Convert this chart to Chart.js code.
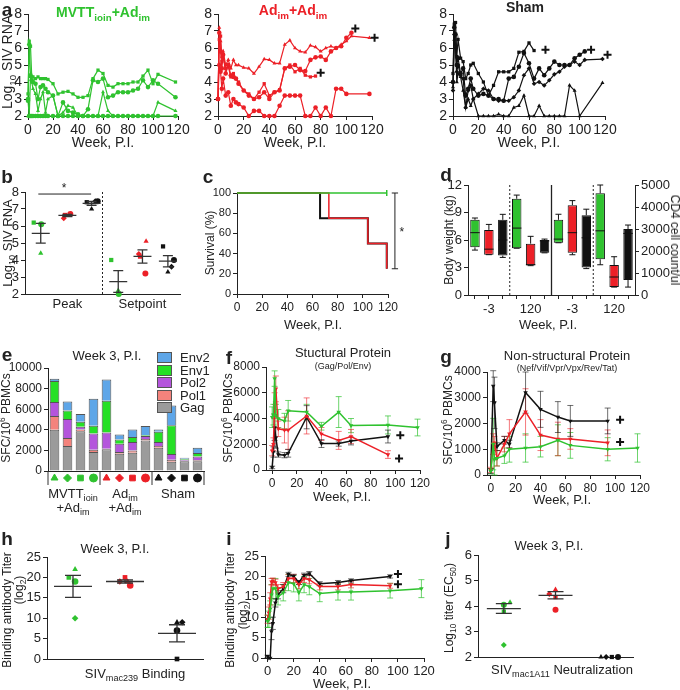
<!DOCTYPE html>
<html lang="en">
<head>
<meta charset="UTF-8">
<title>SIV challenge outcome figure</title>
<script src="https://cdn.jsdelivr.net/npm/chart.js"></script>
<style>
  html, body { margin: 0; padding: 0; background: #fff; }
  body { position: relative; width: 680px; height: 690px; overflow: hidden;
         font-family: "Liberation Sans", Arial, sans-serif; color: #222; }
  canvas { position: absolute; }
  .lab { position: absolute; white-space: nowrap; font-size: 13px; line-height: 1; }
  .lab sub, .lab sup { font-size: 70%; line-height: 0; }
  .key { position: absolute; width: 13px; height: 9px; border: 1px solid #555; }
</style>
</head>
<body>
<script>
// ---------- data ----------

// a: log10 SIV RNA per animal
const aWeeks = [0,1,2,3,4,6,8,10,12,14,16,20,24,28,32,36,40,44,48,52,56,60,64,68,72,76,80,84,88,92,96,100,104,118];
const aMvtt1 = [3.3,6.4,6.1,4.3,4.3,4.2,4.3,4.2,4.2,4.2,4.15,3.9,3.3,3.4,3.45,3.3,3.1,3.1,3.2,4.2,4.7,4.5,3.8,3.7,3.9,3.9,3.9,4.0,4.0,4.35,4.7,3.9,4.45,4.0];
const aMvtt2 = [3.0,6.2,4.4,4.1,4.0,3.9,3.0,3.7,3.8,3.6,3.4,3.2,2.0,2.8,2.3,2.2,2.1,2.0,2.4,4.1,4.0,4.2,3.1,3.2,3.4,3.4,3.4,3.5,3.6,4.1,3.7,4.1,3.9,3.1];
const aMvtt3 = [2.0,2.0,4.3,4.0,3.6,3.3,2.3,3.0,3.4,2.2,3.0,3.2,2.0,2.2,2.6,2.5,2.0,2.0,2.0,2.0,2.0,3.4,2.3,2.0,2.0,2.0,2.0,2.0,2.0,2.0,2.0,2.0,2.8,2.3];
const aMvtt4 = [2.9,2.0,2.0,2.0,2.0,2.0,2.0,2.0,2.0,2.0,2.0,2.0,2.0,2.0,2.0,2.0,2.0,2.0,2.0,2.0,2.0,2.0,2.0,2.0,2.0,2.0,2.0,2.0,2.0,2.0,2.0,2.0,2.0,2.0];
const aAd1 = [3.0,7.2,6.4,5.5,5.8,5.0,5.3,4.8,5.3,5.0,5.0,4.85,4.8,4.5,4.9,5.35,5.3,5.1,5.1,6.2,6.45,6.0,5.8,5.75,6.15,6.05,5.8,6.0,6.1,6.0,6.2,6.4,6.7,6.6];
const aAd2 = [3.0,6.9,5.8,4.8,5.6,4.5,5.0,4.4,4.3,4.2,3.9,3.5,3.2,3.0,3.1,3.4,3.0,3.4,3.5,4.8,4.9,5.0,4.7,4.65,5.3,5.45,5.5,5.3,5.8,6.0,6.1,6.6,6.9,null];
const aAd3 = [3.0,6.5,6.7,5.2,5.6,4.8,4.9,4.3,4.5,4.2,4.0,3.5,3.3,3.0,3.4,3.9,3.2,3.4,3.55,4.8,5.0,4.6,4.8,4.4,4.3,4.35,null,null,null,null,null,null,null,null];
const aAd4 = [3.0,5.0,4.6,3.6,4.2,3.2,3.4,2.6,3.0,2.8,2.7,2.5,2.0,2.3,2.3,2.0,2.0,2.0,2.6,3.2,3.2,3.2,3.2,2.0,2.0,2.5,2.0,2.5,2.0,3.6,3.6,3.3,null,3.3];
const aSham1 = [4.5,7.4,7.5,5.5,6.5,5.4,5.2,4.2,4.5,5.0,5.1,4.5,4.0,3.2,3.8,4.6,4.6,4.6,4.8,5.75,5.8,6.3,5.85,null,null,null,null,null,null,null,null,null,null,null];
const aSham2 = [4.0,7.2,6.8,5.0,5.4,4.5,4.8,3.2,3.6,4.2,3.6,3.2,3.3,3.2,3.0,3.0,2.9,4.2,4.3,4.9,5.7,5.1,4.2,4.8,4.4,4.8,5.2,5.0,5.0,5.0,5.4,5.6,5.8,null];
const aSham3 = [3.5,6.8,6.0,4.6,5.0,4.4,4.2,2.5,3.5,3.8,3.0,3.3,3.6,3.5,3.0,2.9,2.9,2.9,3.1,3.5,4.4,4.8,3.9,4.0,3.8,4.1,4.45,4.6,4.9,5.0,5.2,5.0,5.3,5.35];
const aSham4 = [3.7,6.5,6.2,4.0,4.5,4.3,3.5,2.5,3.0,2.6,3.0,2.0,2.0,2.0,2.0,2.1,2.0,2.0,2.5,2.6,3.2,2.0,2.0,2.6,2.0,2.0,2.0,2.0,2.0,3.8,3.5,2.0,null,3.95];
const aAdCrossWeeks = [107, 122, 80];
const aAdCrossVals = [7.15, 6.6, 4.55];
const aShamCrossWeeks = [73, 109, 122];
const aShamCrossVals = [5.9, 5.9, 5.6];

// b: peak / setpoint viral load, animals ordered triangle, diamond, square, circle
const bPeak = [[4.4, null, 6.2, 6.1], [6.7, 6.45, 6.65, 6.7], [7.0, 7.45, 7.4, 7.45]];
const bSetpoint = [[2.2, null, 4.0, 2.0], [5.1, 4.35, 4.2, 3.2], [3.3, 3.6, 4.8, 4.0]];
const bMean = [5.57, 6.62, 7.33, 2.73, 4.21, 3.93];
const bSem = [0.58, 0.06, 0.11, 0.64, 0.39, 0.33];
const bCategories = ['Peak', 'Setpoint'];

// c: survival (%)
const cGreenWeeks = [0, 119];
const cGreenSurv = [100, 100];
const cBlackWeeks = [0, 66, 104, 119];
const cBlackSurv = [100, 75, 50, 25];
const cRedWeeks = [0, 73, 104, 119];
const cRedSurv = [100, 75, 50, 25];

// d: body weight (kg) and CD4 count, boxes green/red/black at week -3 then week 120
const dWeekLabels = ['', '-3', '', '', '120', '', '', '-3', '', '', '120', ''];
const dWeightLo  = [4.9, 4.4, 4.1, 5.1, 3.2, 4.6];
const dWeightQ1  = [5.2, 4.4, 4.3, 5.1, 3.25, 4.6];
const dWeightMed = [6.8, 5.0, 6.0, 7.3, 3.3, 5.9];
const dWeightQ3  = [8.2, 7.1, 8.2, 10.5, 5.6, 6.0];
const dWeightHi  = [8.4, 7.7, 8.8, 10.9, 6.4, 6.1];
const dCd4Lo  = [2375, 1830, 1200, 1375, 360, 360];
const dCd4Q1  = [2375, 1917, 1250, 1625, 364, 680];
const dCd4Med = [2540, 2833, 2600, 2917, 818, 2800];
const dCd4Q3  = [3417, 4083, 3625, 4625, 1360, 3000];
const dCd4Hi  = [3670, 4290, 3900, 5000, 1740, 3180];

// e: SFC/10^6 PBMCs at week 3, 12 animals
const eGag  = [4000, 2430, 3870, 1840, 2100, 1670, 1770, 2950, 2260, 900, 950, 950];
const ePol1 = [1350, 780, 160, 225, 64, 170, 230, 150, 170, 200, 50, 100];
const ePol2 = [1350, 1840, 265, 1575, 1576, 810, 820, 300, 390, 550, 100, 350];
const eEnv1 = [2050, 820, 495, 750, 3080, 400, 490, 75, 980, 2800, 100, 340];
const eEnv2 = [200, 880, 750, 2625, 2065, 490, 720, 885, 230, 1900, 80, 520];

// f: structural protein responses
const fWeeks = [0, 1, 2, 3, 5, 10, 13, 28, 40, 54, 64, 94, 118];
const fGreen = [4100, 4300, 7100, 4200, 4000, 3800, 4600, 4500, 3400, 4500, 3450, 3500, 3300];
const fRed   = [1500, 2000, 5000, 6300, 3200, 3100, 3100, 4200, 2800, 2300, 2600, 1200, null];
const fBlack = [200, 1400, 3300, 2500, 1200, 1150, 1300, 4100, 2050, 2050, 2250, 2600, null];
const fGreenErr = [800, 800, 600, 900, 700, 600, 800, 600, 300, 1200, 550, 700, 650];
const fRedErr   = [400, 500, 1000, 1000, 600, 1000, 1500, 1400, 500, 700, 550, 300, null];
const fBlackErr = [100, 400, 1000, 800, 200, 200, 300, 900, 300, 200, 300, 500, null];
const fCrossWeeks = [104, 103];
const fCrossVals = [2700, 900];

// g: non-structural protein responses
const gWeeks = [0, 2, 3, 5, 11, 15, 28, 40, 54, 64, 94, 118];
const gBlack = [150, 3450, 2800, 1100, 1350, 1200, 3200, 2550, 2250, 2100, 2100, null];
const gRed   = [200, 1200, 1250, 650, 1200, 1600, 2450, 1550, 1400, 1400, 1250, null];
const gGreen = [150, 1200, 600, 650, 750, 1000, 1050, 1100, 1350, 1150, 1000, 1050];
const gBlackErr = [100, 600, 1000, 150, 150, 150, 800, 700, 600, 600, 500, null];
const gRedErr   = [100, 400, 250, 300, 300, 550, 900, 600, 650, 400, 500, null];
const gGreenErr = [100, 1000, 600, 300, 300, 500, 550, 400, 600, 500, 450, 550];
const gCrossWeeks = [104, 104];
const gCrossVals = [2150, 1280];

// h: binding antibody titer (log2) at week 3
const hVals = [[22, 10, 20, 19], [19, 19, 20, 18], [9, 9, 0, 7]];
const hMean = [17.8, 19.0, 6.3];
const hSem = [2.7, 0.4, 2.1];

// i: binding antibody titer over time
const iWeeks = [0, 1, 2, 3, 4, 6, 8, 12, 16, 20, 24, 28, 32, 40, 54, 64, 94, 118];
const iBlack = [0.4, 0, 0, 6.5, 8.5, 13.5, 15.5, 17, 20.5, 20, 18.5, 20.3, 20.7, 18.2, 18.5, 19, 20, null];
const iRed   = [9.5, 11, 14.5, 18.7, 18.8, 18.5, 17, 17.5, 19.5, 19.5, 18, 19.5, 19.2, 17.5, 17.5, 18, 17.7, null];
const iGreen = [9, 9.5, 12, 15.5, 17, 17, 15, 16, 18.5, 18.2, 16, 18, 17.5, 15.8, 16.2, 16.2, 16.5, 17];
const iBlackErr = [0.3, 0, 0, 2, 1.5, 1, 1, 1, 0.5, 0.5, 0.5, 0.5, 0.5, 0.5, 0.5, 0.4, 0.4, null];
const iRedErr   = [1, 1.5, 1.5, 0.8, 0.8, 0.8, 1, 1, 1, 1, 1, 1, 1, 0.8, 0.8, 0.8, 0.6, null];
const iGreenErr = [1.5, 2, 2, 2.5, 2.5, 2.5, 2, 2, 2, 2, 2, 2, 2, 2, 2, 2, 1.8, 2.2];
const iCrossWeeks = [100, 100];
const iCrossVals = [20.6, 18.1];

// j: neutralization titer (log10 EC50) at week 3
const jVals = [[4.15, 2.47, 3.78, 4.05], [4.65, 4.47, 4.35, 3.85], [2, 2, 2, 2]];
const jMean = [3.9, 4.42, null];
const jSem = [0.19, 0.14, null];

// ---------- styling ----------
const GREEN = '#2fc22f', RED = '#ec2027', BLACK = '#111111';
const GROUP_COLORS = [GREEN, RED, BLACK];
const ANIMAL_SHAPES = ['triangle', 'rectRot', 'rect', 'circle'];

Chart.defaults.font.family = '"Liberation Sans", Arial, sans-serif';
Chart.defaults.font.size = 12;
Chart.defaults.color = '#222';
Chart.defaults.animation = false;
Chart.defaults.responsive = false;
Chart.defaults.devicePixelRatio = 1;
Chart.defaults.plugins.legend.display = false;
Chart.defaults.plugins.tooltip.enabled = false;

// custom drawing: error bars, box whiskers, mean/SEM, annotation lines, marker row
const extras = {
  id: 'extras',
  beforeDatasetsDraw(chart) {
    const ctx = chart.ctx;
    chart.data.datasets.forEach((ds, i) => {
      if (!ds.errors) return;
      const meta = chart.getDatasetMeta(i);
      const ys = chart.scales[meta.yAxisID];
      ctx.save();
      ctx.strokeStyle = ds.errorColor || ds.borderColor;
      ctx.lineWidth = 1;
      meta.data.forEach((pt, j) => {
        const e = ds.errors[j], v = ds.data[j].y;
        if (e == null || v == null || !e) return;
        const y1 = ys.getPixelForValue(v + e), y2 = ys.getPixelForValue(v - e);
        ctx.beginPath();
        ctx.moveTo(pt.x, y1); ctx.lineTo(pt.x, y2);
        ctx.moveTo(pt.x - 3, y1); ctx.lineTo(pt.x + 3, y1);
        ctx.moveTo(pt.x - 3, y2); ctx.lineTo(pt.x + 3, y2);
        ctx.stroke();
      });
      ctx.restore();
    });
  },
  afterDatasetsDraw(chart, args, opts) {
    const ctx = chart.ctx;
    const xs = chart.scales.x, area = chart.chartArea;

    chart.data.datasets.forEach((ds, i) => {
      if (!ds.box) return;
      const meta = chart.getDatasetMeta(i);
      const s = chart.scales[meta.yAxisID];
      ctx.save();
      ctx.strokeStyle = '#111';
      ctx.lineWidth = 1;
      meta.data.forEach((bar, j) => {
        if (ds.data[j] == null) return;
        const x = bar.x, hw = bar.width / 2;
        const q1 = s.getPixelForValue(ds.data[j][0]), q3 = s.getPixelForValue(ds.data[j][1]);
        const lo = s.getPixelForValue(ds.box.lo[j]), hi = s.getPixelForValue(ds.box.hi[j]);
        const med = s.getPixelForValue(ds.box.med[j]);
        ctx.beginPath();
        ctx.moveTo(x, q3); ctx.lineTo(x, hi);
        ctx.moveTo(x - 3, hi); ctx.lineTo(x + 3, hi);
        ctx.moveTo(x, q1); ctx.lineTo(x, lo);
        ctx.moveTo(x - 3, lo); ctx.lineTo(x + 3, lo);
        ctx.moveTo(x - hw, med); ctx.lineTo(x + hw, med);
        ctx.stroke();
      });
      ctx.restore();
    });

    if (opts.meanSem) {
      const m = opts.meanSem, ys = chart.scales.y;
      ctx.save();
      ctx.strokeStyle = '#333';
      ctx.lineWidth = 1.3;
      m.x.forEach((gx, k) => {
        if (m.mean[k] == null) return;
        const x = xs.getPixelForValue(gx);
        const ym = ys.getPixelForValue(m.mean[k]);
        const y1 = ys.getPixelForValue(m.mean[k] + m.sem[k]), y2 = ys.getPixelForValue(m.mean[k] - m.sem[k]);
        ctx.beginPath();
        ctx.moveTo(x - m.half, ym); ctx.lineTo(x + m.half, ym);
        ctx.moveTo(x, y1); ctx.lineTo(x, y2);
        ctx.moveTo(x - m.cap, y1); ctx.lineTo(x + m.cap, y1);
        ctx.moveTo(x - m.cap, y2); ctx.lineTo(x + m.cap, y2);
        ctx.stroke();
      });
      ctx.restore();
    }

    (opts.lines || []).forEach(l => {
      const ys = chart.scales[l.axis || 'y'];
      ctx.save();
      ctx.strokeStyle = l.color || '#222';
      ctx.lineWidth = l.width || 1;
      if (l.dash) ctx.setLineDash(l.dash);
      ctx.beginPath();
      ctx.moveTo(xs.getPixelForValue(l.x1), ys.getPixelForValue(l.y1));
      ctx.lineTo(xs.getPixelForValue(l.x2), ys.getPixelForValue(l.y2));
      ctx.stroke();
      ctx.restore();
    });

    (opts.texts || []).forEach(t => {
      const ys = chart.scales.y;
      ctx.save();
      ctx.fillStyle = '#222';
      ctx.font = t.font || '12px "Liberation Sans", Arial';
      ctx.textAlign = 'center';
      ctx.textBaseline = 'middle';
      ctx.fillText(t.text, xs.getPixelForValue(t.x), ys.getPixelForValue(t.y));
      ctx.restore();
    });

    if (opts.markerRow) {
      const r = opts.markerRow;
      const meta = chart.getDatasetMeta(0);
      ctx.save();
      meta.data.forEach((bar, j) => {
        const col = r.colors[Math.floor(j / 4)];
        ctx.fillStyle = col;
        ctx.strokeStyle = col;
        Chart.helpers.drawPoint(ctx, { pointStyle: r.shapes[j % 4], radius: 4, rotation: 0, borderWidth: 1 }, bar.x, area.bottom + r.offset);
      });
      ctx.strokeStyle = '#333';
      ctx.lineWidth = 1;
      r.separators.forEach(v => {
        const x = xs.getPixelForValue(v);
        ctx.beginPath();
        ctx.moveTo(x, area.bottom);
        ctx.lineTo(x, area.bottom + 14);
        ctx.stroke();
      });
      ctx.restore();
    }
  }
};
Chart.register(extras);

// ---------- helpers ----------
function linAxis(min, max, step, size, extra) {
  return Object.assign({
    type: 'linear', min, max,
    ticks: { stepSize: step, includeBounds: false, autoSkip: false, maxRotation: 0, minRotation: 0,
             color: '#222', padding: 2, font: { size: size || 12 }, callback: v => String(v) },
    grid: { drawOnChartArea: false, tickLength: 4, color: '#222' },
    border: { color: '#222' }
  }, extra || {});
}

function bareAxis(min, max) {
  return {
    type: 'linear', min, max,
    ticks: { display: false },
    grid: { display: false },
    border: { color: '#222' }
  };
}

const PAD = { l: 44, t: 14, r: 24, b: 24 };
function makeChart(box, cfg, padOverride) {
  const pad = Object.assign({}, PAD, padOverride || {});
  const cv = document.createElement('canvas');
  const w = box.r - box.l + pad.l + pad.r;
  const h = box.b - box.t + pad.t + pad.b;
  cv.width = w; cv.height = h;
  cv.style.width = w + 'px'; cv.style.height = h + 'px';
  cv.style.left = (box.l - pad.l) + 'px';
  cv.style.top = (box.t - pad.t) + 'px';
  document.body.appendChild(cv);
  const sc = cfg.options.scales;
  cfg.options.layout = { padding: { left: 0, top: pad.t, right: pad.r, bottom: 0 } };
  sc.x.afterFit = s => { s.height = pad.b; };
  sc.y.afterFit = s => { s.width = pad.l; };
  if (sc.y2) {
    sc.y2.afterFit = s => { s.width = pad.r; };
    cfg.options.layout.padding.right = 0;
  }
  return new Chart(cv, cfg);
}

function label(html, x, y, o) {
  o = o || {};
  const d = document.createElement('div');
  d.className = 'lab';
  d.innerHTML = html;
  d.style.left = x + 'px';
  d.style.top = y + 'px';
  let tr = o.left ? 'translate(0,-50%)' : 'translate(-50%,-50%)';
  if (o.rot) tr += ' rotate(' + o.rot + 'deg)';
  d.style.transform = tr;
  if (o.size) d.style.fontSize = o.size + 'px';
  if (o.bold) d.style.fontWeight = 'bold';
  if (o.color) d.style.color = o.color;
  document.body.appendChild(d);
}

function pts(xsArr, ysArr) {
  return xsArr.map((x, i) => ({ x: x, y: ysArr[i] }));
}

function crossSet(w, v) {
  return { data: pts(w, v), showLine: false, pointStyle: 'cross', pointRadius: 4,
           pointBorderWidth: 2, borderColor: '#111', backgroundColor: '#111', clip: false };
}

// ---------- panel a ----------
function aChart(box, series, color, shapes, crossW, crossV) {
  const datasets = series.map((vals, k) => ({
    data: pts(aWeeks, vals),
    borderColor: color, backgroundColor: color, borderWidth: 1.2,
    pointStyle: shapes[k], pointRadius: 2.3, pointBorderWidth: 0,
    spanGaps: true, clip: false
  }));
  if (crossW) datasets.unshift(crossSet(crossW, crossV));
  makeChart(box, {
    type: 'line',
    data: { datasets },
    options: { scales: { x: linAxis(0, 120, 20, 14), y: linAxis(2, 8, 1, 14) } }
  });
}
aChart({ l: 28, t: 14, r: 178, b: 116 }, [aMvtt1, aMvtt2, aMvtt3, aMvtt4], GREEN,
       ['rect', 'circle', 'triangle', 'circle']);
aChart({ l: 218, t: 14, r: 372, b: 116 }, [aAd1, aAd2, aAd3, aAd4], RED,
       ['triangle', 'circle', 'rect', 'circle'], aAdCrossWeeks, aAdCrossVals);
aChart({ l: 453, t: 14, r: 605, b: 116 }, [aSham1, aSham2, aSham3, aSham4], BLACK,
       ['rect', 'circle', 'rectRot', 'triangle'], aShamCrossWeeks, aShamCrossVals);

// ---------- scatter panels (b, h, j) ----------
function groupSets(groups, centers, jitter, radius) {
  return groups.map((vals, g) => ({
    data: vals.map((v, k) => ({ x: centers[g] + jitter[g % jitter.length][k], y: v })),
    pointStyle: ANIMAL_SHAPES,
    pointRadius: radius,
    pointBorderWidth: 0,
    backgroundColor: GROUP_COLORS[g % 3],
    borderColor: GROUP_COLORS[g % 3],
    clip: false
  }));
}

const bCenters = [0.65, 1.75, 2.75, 3.85, 4.85, 5.9];
const bJitter = [[0.0, 0, -0.29, 0.02], [0.15, -0.15, -0.1, 0.12], [0.0, 0.15, -0.2, 0.25]];
makeChart({ l: 25, t: 192, r: 180, b: 294 }, {
  type: 'scatter',
  data: { datasets: groupSets(bPeak.concat(bSetpoint), bCenters, bJitter, 3) },
  options: {
    scales: {
      x: Object.assign(bareAxis(0, 6.4), {
        ticks: { display: true, autoSkip: false, maxRotation: 0, color: '#222', font: { size: 13 }, padding: -5,
                 callback: (v, i) => bCategories[i] },
        afterBuildTicks: ax => { ax.ticks = [{ value: bCenters[1] }, { value: bCenters[4] }]; }
      }),
      y: linAxis(2, 8, 1, 13)
    },
    plugins: {
      extras: {
        meanSem: { x: bCenters, mean: bMean, sem: bSem, half: 9, cap: 5 },
        lines: [
          { x1: 0.55, y1: 7.88, x2: 2.73, y2: 7.88 },
          { x1: 3.2, y1: 2, x2: 3.2, y2: 8, dash: [2, 2] }
        ],
        texts: [{ x: 1.61, y: 8.2, text: '*' }]
      }
    }
  }
});

const hCenters = [0.5, 1.5, 2.5];
const hJitter = [[0.04, 0.04, -0.08, 0.04], [0.05, -0.1, 0, 0.1], [0, 0.1, 0, 0]];
makeChart({ l: 47, t: 557, r: 203, b: 659 }, {
  type: 'scatter',
  data: { datasets: groupSets(hVals, hCenters, hJitter, 3.3) },
  options: {
    scales: { x: bareAxis(0, 3), y: linAxis(0, 25, 5, 13) },
    plugins: { extras: { meanSem: { x: hCenters, mean: hMean, sem: hSem, half: 19, cap: 8 } } }
  }
});

const jCenters = [0.5, 1.5, 2.55];
const jJitter = [[0.12, 0, 0, 0], [0, -0.12, 0, 0], [-0.17, -0.07, 0.04, 0.16]];
makeChart({ l: 478, t: 555, r: 633, b: 657 }, {
  type: 'scatter',
  data: { datasets: groupSets(jVals, jCenters, jJitter, 3) },
  options: {
    scales: { x: bareAxis(0, 3), y: linAxis(2, 6, 1, 13) },
    plugins: { extras: { meanSem: { x: jCenters, mean: jMean, sem: jSem, half: 17, cap: 8 } } }
  }
});

// ---------- panel c: survival ----------
makeChart({ l: 237, t: 193, r: 388, b: 294 }, {
  type: 'line',
  data: {
    datasets: [
      { data: pts(cGreenWeeks, cGreenSurv), borderColor: GREEN, borderWidth: 1.5, stepped: 'before',
        pointRadius: [0, 3], pointStyle: 'line', pointRotation: 90, pointBorderWidth: 1.5, clip: false },
      { data: pts(cRedWeeks, cRedSurv), borderColor: RED, borderWidth: 1.5, stepped: 'before',
        pointRadius: 0, clip: false },
      { data: pts(cBlackWeeks, cBlackSurv), borderColor: BLACK, borderWidth: 2, stepped: 'before',
        pointRadius: 0, clip: false }
    ]
  },
  options: {
    scales: { x: linAxis(0, 120, 20, 12), y: linAxis(0, 100, 20, 11) },
    plugins: {
      extras: {
        lines: [
          { x1: 125.5, y1: 100, x2: 125.5, y2: 25 },
          { x1: 123, y1: 100, x2: 128, y2: 100 },
          { x1: 123, y1: 25, x2: 128, y2: 25 }
        ],
        texts: [{ x: 131, y: 61, text: '*' }]
      }
    }
  }
});

// ---------- panel d: boxes ----------
const none6 = [null, null, null, null, null, null];
const dColors = [GREEN, RED, BLACK, GREEN, RED, BLACK];
const boxStyle = { borderColor: '#111', borderWidth: 1, borderSkipped: false, grouped: false,
                   barPercentage: 0.68, categoryPercentage: 1 };
makeChart({ l: 468, t: 185, r: 635, b: 295 }, {
  type: 'bar',
  data: {
    labels: dWeekLabels,
    datasets: [
      Object.assign({
        data: dWeightQ1.map((q, i) => [q, dWeightQ3[i]]).concat(none6),
        yAxisID: 'y', backgroundColor: dColors.concat(dColors),
        box: { lo: dWeightLo.concat(none6), med: dWeightMed.concat(none6), hi: dWeightHi.concat(none6) }
      }, boxStyle),
      Object.assign({
        data: none6.concat(dCd4Q1.map((q, i) => [q, dCd4Q3[i]])),
        yAxisID: 'y2', backgroundColor: dColors.concat(dColors),
        box: { lo: none6.concat(dCd4Lo), med: none6.concat(dCd4Med), hi: none6.concat(dCd4Hi) }
      }, boxStyle)
    ]
  },
  options: {
    scales: {
      x: { type: 'category', offset: true,
           grid: { display: true, drawOnChartArea: false, offset: false, tickLength: 4, color: '#222' },
           border: { color: '#222' },
           ticks: { autoSkip: false, maxRotation: 0, minRotation: 0, color: '#222', font: { size: 13 }, padding: 3 } },
      y: linAxis(0, 12, 3, 13),
      y2: linAxis(0, 5000, 1000, 13, { position: 'right' })
    },
    plugins: {
      extras: {
        lines: [
          { x1: 2.5, y1: 0, x2: 2.5, y2: 12, dash: [2, 2] },
          { x1: 5.5, y1: 0, x2: 5.5, y2: 12, width: 1.3 },
          { x1: 8.5, y1: 0, x2: 8.5, y2: 12, dash: [2, 2] }
        ]
      }
    }
  }
}, { r: 40 });

// ---------- panel e: stacked bars ----------
const eSeries = [
  { label: 'Gag', data: eGag, color: '#9b9b9b' },
  { label: 'Pol1', data: ePol1, color: '#f4837c' },
  { label: 'Pol2', data: ePol2, color: '#b455dc' },
  { label: 'Env1', data: eEnv1, color: '#25e025' },
  { label: 'Env2', data: eEnv2, color: '#5ea6e8' }
];
makeChart({ l: 48, t: 368, r: 204, b: 471 }, {
  type: 'bar',
  data: {
    labels: eGag.map(() => ''),
    datasets: eSeries.map(s => ({
      label: s.label, data: s.data, backgroundColor: s.color, borderColor: '#555',
      borderWidth: 1, barPercentage: 0.74, categoryPercentage: 1
    }))
  },
  options: {
    scales: {
      x: { type: 'category', stacked: true, grid: { display: false }, ticks: { display: false },
           border: { color: '#222' } },
      y: Object.assign(linAxis(0, 10000, 2000, 12), { stacked: true })
    },
    plugins: {
      extras: {
        markerRow: { shapes: ANIMAL_SHAPES, colors: GROUP_COLORS, offset: 7, separators: [-0.5, 3.5, 7.5, 11.5] }
      }
    }
  }
});

// ---------- time-course panels (f, g, i) ----------
function courseChart(box, weeks, series, errs, crossW, crossV, xAxis, yAxis) {
  const cols = [GREEN, RED, BLACK];
  const errCols = ['rgba(47,194,47,0.7)', 'rgba(236,32,39,0.6)', 'rgba(17,17,17,0.6)'];
  const datasets = series.map((vals, k) => ({
    data: pts(weeks, vals), errors: errs[k], errorColor: errCols[k],
    borderColor: cols[k], backgroundColor: cols[k], borderWidth: 1.5,
    pointStyle: 'triangle', pointRotation: 180, pointRadius: 2.6, pointBorderWidth: 0,
    spanGaps: true, clip: false
  }));
  datasets.push(crossSet(crossW, crossV));
  makeChart(box, { type: 'line', data: { datasets }, options: { scales: { x: xAxis, y: yAxis } } });
}
courseChart({ l: 266, t: 367, r: 420, b: 470 }, fWeeks, [fGreen, fRed, fBlack],
            [fGreenErr, fRedErr, fBlackErr], fCrossWeeks, fCrossVals,
            linAxis(-5, 120, 20, 12), linAxis(0, 8000, 2000, 12));
courseChart({ l: 487, t: 372, r: 640, b: 475 }, gWeeks, [gGreen, gRed, gBlack],
            [gGreenErr, gRedErr, gBlackErr], gCrossWeeks, gCrossVals,
            linAxis(-3, 120, 20, 12), linAxis(0, 4000, 1000, 12));
courseChart({ l: 265, t: 556, r: 424, b: 658 }, iWeeks, [iGreen, iRed, iBlack],
            [iGreenErr, iRedErr, iBlackErr], iCrossWeeks, iCrossVals,
            linAxis(-2, 120, 20, 13), linAxis(0, 25, 5, 13));

// ---------- text ----------
const letters = [['a', 7, 9], ['b', 7, 176], ['c', 208, 176], ['d', 446, 174], ['e', 7, 354],
                 ['f', 229, 357], ['g', 446, 356], ['h', 7, 538], ['i', 229, 538], ['j', 448, 538]];
letters.forEach(l => label(l[0], l[1], l[2], { bold: true, size: 19 }));

label('MVTT<sub>ioin</sub>+Ad<sub>im</sub>', 103, 12, { bold: true, color: GREEN, size: 14 });
label('Ad<sub>im</sub>+Ad<sub>im</sub>', 293, 10, { bold: true, color: RED, size: 14 });
label('Sham', 525, 7, { bold: true, size: 14 });
label('Log<sub>10</sub> SIV RNA', 7, 62, { rot: -90, size: 14 });
[103, 295, 529].forEach(x => label('Week, P.I.', x, 142, { size: 14 }));

label('Log<sub>10</sub> SIV RNA', 7, 243, { rot: -90 });
label('Survival (%)', 210, 243, { rot: -90, size: 12 });
label('Week, P.I.', 313, 324);
label('Body weight (kg)', 449, 240, { rot: -90, size: 12 });
label('CD4 cell count/ul', 675, 240, { rot: 90, size: 12 });
label('Week, P.I.', 548, 324);

label('Week 3, P.I.', 107, 355, { size: 13 });
label('SFC/10<sup>6</sup> PBMCs', 6, 418, { rot: -90, size: 12 });
const keys = [['Env2', '#5ea6e8'], ['Env1', '#25e025'], ['Pol2', '#b455dc'], ['Pol1', '#f4837c'], ['Gag', '#9b9b9b']];
keys.forEach((k, i) => {
  const y = 357 + i * 12.5;
  const sw = document.createElement('div');
  sw.className = 'key';
  sw.style.left = '157px';
  sw.style.top = (y - 5) + 'px';
  sw.style.background = k[1];
  document.body.appendChild(sw);
  label(k[0], 180, y, { left: true });
});
label('MVTT<sub>ioin</sub>', 73, 493);
label('+Ad<sub>im</sub>', 73, 507);
label('Ad<sub>im</sub>', 125, 493);
label('+Ad<sub>im</sub>', 125, 507);
label('Sham', 178, 493);

label('Stuctural Protein', 343, 352);
label('(Gag/Pol/Env)', 343, 366, { size: 9 });
label('SFC/10<sup>6</sup> PBMCs', 228, 418, { rot: -90, size: 12 });
label('Week, P.I.', 342, 496);

label('Non-structural Protein', 567, 355);
label('(Nef/Vif/Vpr/Vpx/Rev/Tat)', 567, 368, { size: 9 });
label('SFC/10<sup>6</sup> PBMCs', 448, 420, { rot: -90, size: 12 });
label('Week, P.I.', 562, 499);

label('Week 3, P.I.', 115, 548);
label('Binding antibody Titer', 7, 610, { rot: -90, size: 12 });
label('(log<sub>2</sub>)', 19, 590, { rot: -90, size: 12 });
label('SIV<sub>mac239</sub> Binding', 135, 673);

label('Binding antibody Titer', 230, 610, { rot: -90, size: 12 });
label('(log<sub>2</sub>)', 243, 615, { rot: -90, size: 12 });
label('Week, P.I.', 342, 683);

label('Week 3, P.I.', 549, 545);
label('Log<sub>10</sub> titer (EC<sub>50</sub>)', 449, 608, { rot: -90, size: 12 });
label('SIV<sub>mac1A11</sub> Neutralization', 562, 669);
</script>
</body>
</html>
